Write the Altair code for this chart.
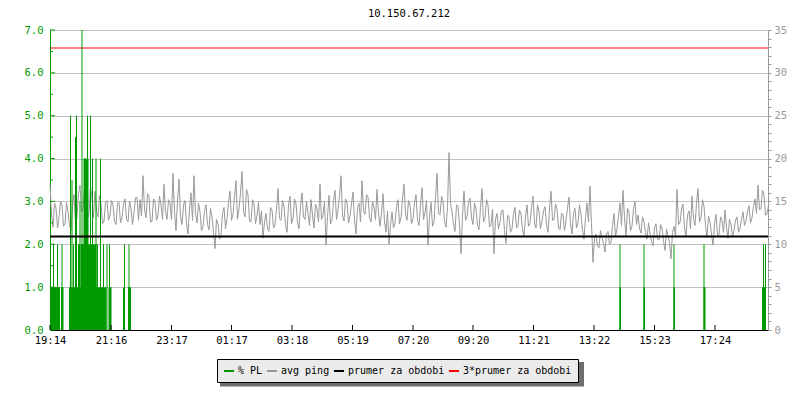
import altair as alt
import pandas as pd

FONT = "DejaVu Sans Mono"
FS = 10.5

title_text = "10.150.67.212"

# x axis: minutes since 19:14
tick_minutes = [0, 122, 243, 363, 484, 605, 726, 846, 967, 1088, 1209, 1330]
tick_labels = ["19:14", "21:16", "23:17", "01:17", "03:18", "05:19",
               "07:20", "09:20", "11:21", "13:22", "15:23", "17:24"]
x_domain = [0, 1436]

# avg ping (right axis), samples at minutes 0, 6, 12, ...
ping_step = 6
ping_values = [
    17.0, 12.0, 14.2, 13.1, 14.6, 12.4, 13.8, 11.6, 15.8, 13.2,
    16.9, 14.1, 17.8, 13.6, 15.4, 16.2, 13.2, 14.8, 12.7, 15.1,
    13.4, 14.6, 12.3, 14.9, 13.1, 15.3, 12.6, 14.2, 13.7, 15.5,
    15.2, 18.0, 13.1, 15.6, 12.7, 14.9, 13.4, 14.6, 17.0, 12.9,
    14.8, 18.3, 11.6, 17.6, 12.3, 15.1, 11.2, 16.0, 18.0, 12.5,
    13.8, 12.1, 14.6, 11.7, 13.2, 9.5, 12.4, 11.1, 14.3, 13.0,
    16.2, 13.5, 17.4, 14.1, 18.5, 13.2, 15.8, 12.6, 14.7, 13.4,
    12.3, 10.7, 13.6, 11.5, 14.0, 12.2, 16.5, 12.8, 14.4, 11.4,
    15.6, 13.0, 14.7, 11.8, 16.0, 12.9, 13.6, 15.2, 11.9, 14.1,
    17.0, 13.4, 9.9, 15.7, 12.8, 16.3, 14.0, 18.0, 12.7, 15.0,
    13.3, 16.1, 11.2, 14.8, 17.4, 13.5, 15.5, 12.6, 14.3, 16.4,
    12.1, 15.9, 11.4, 10.0, 13.8, 12.5, 15.2, 13.1, 17.0, 12.8,
    14.6, 13.0, 15.8, 12.2, 16.6, 13.7, 9.9, 14.9, 12.6, 18.3,
    13.4, 15.1, 12.0, 20.7, 13.8, 11.5, 14.4, 8.9, 16.2, 13.2,
    15.4, 12.3, 14.1, 11.7, 16.5, 13.0, 14.6, 12.2, 8.9, 13.6,
    12.6, 14.0, 10.1, 13.2, 11.8, 14.3, 12.2, 13.5, 11.0, 14.6,
    12.4, 15.6, 11.9, 13.8, 12.7, 14.4, 11.4, 16.2, 12.9, 14.1,
    11.7, 13.5, 12.8, 15.5, 11.2, 14.2, 12.5, 13.4, 10.6, 14.8,
    16.8, 7.9, 11.2, 9.6, 10.8, 9.1, 11.5, 10.2, 13.6, 11.8,
    14.8, 16.3, 11.0, 13.7, 12.1, 15.0, 13.4, 11.3, 12.6, 10.6,
    11.2, 9.8, 12.4, 10.5, 11.9, 9.3, 10.9, 8.3, 12.1, 16.4,
    12.5, 14.7, 10.9, 13.9, 15.6, 12.2, 16.5, 13.1, 14.4, 10.8,
    12.6, 9.9, 13.5, 11.1, 12.8, 14.0, 10.7, 12.3, 11.6, 13.2,
    11.9, 13.8, 12.7, 14.5, 13.1, 15.3, 16.9, 14.2, 15.8, 13.5,
]
# avg ping samples in between, at minutes 3, 9, 15, ...
ping_values_mid = [
    13.5, 14.8, 11.9, 15.0, 12.1, 14.9, 12.2, 14.4, 12.3, 15.9,
    13.8, 16.4, 12.9, 16.8, 13.1, 13.9, 15.7, 12.4, 14.9, 12.8,
    15.1, 12.6, 14.8, 12.5, 14.7, 12.9, 15.0, 12.3, 15.4, 12.8,
    13.3, 14.1, 15.9, 12.6, 15.3, 12.8, 15.6, 12.9, 13.8, 15.2,
    12.9, 13.7, 15.0, 13.2, 14.6, 12.4, 14.1, 12.8, 13.6, 14.8,
    11.6, 13.9, 12.3, 14.2, 11.4, 12.9, 10.6, 13.6, 11.8, 14.9,
    12.8, 15.6, 12.9, 16.0, 13.8, 16.4, 12.7, 15.2, 12.4, 14.9,
    13.9, 12.6, 11.8, 14.3, 11.9, 14.1, 13.0, 15.1, 12.3, 14.6,
    12.4, 15.3, 12.6, 14.5, 13.2, 15.0, 12.2, 13.4, 14.7, 12.6,
    12.9, 15.0, 13.2, 12.4, 15.1, 12.9, 15.6, 13.4, 15.3, 12.5,
    14.7, 12.8, 14.2, 12.6, 13.9, 15.8, 13.1, 15.0, 12.9, 13.6,
    13.7, 12.6, 13.9, 12.2, 11.9, 14.4, 12.4, 15.3, 13.5, 15.1,
    12.4, 14.9, 12.8, 14.6, 12.9, 15.1, 13.2, 12.1, 15.4, 13.6,
    15.6, 12.7, 14.3, 14.8, 12.4, 14.6, 12.3, 13.4, 12.8, 14.9,
    13.1, 14.8, 12.2, 14.3, 12.6, 15.2, 12.0, 14.1, 12.9, 11.8,
    13.9, 11.6, 13.4, 11.4, 13.6, 11.9, 14.0, 11.7, 13.2, 12.1,
    14.3, 12.5, 14.6, 11.8, 13.9, 12.3, 14.1, 12.8, 14.7, 11.9,
    13.6, 11.6, 14.2, 12.4, 13.7, 11.9, 14.6, 11.7, 13.1, 12.6,
    12.4, 10.6, 9.8, 11.6, 10.1, 11.2, 10.0, 12.1, 10.9, 13.3,
    12.2, 13.1, 14.2, 11.6, 14.1, 12.3, 11.9, 13.2, 11.4, 12.5,
    10.4, 11.9, 10.6, 12.3, 10.4, 11.8, 10.2, 11.4, 10.9, 12.3,
    14.1, 12.0, 13.4, 11.8, 13.0, 14.8, 12.6, 15.2, 12.2, 13.3,
    11.2, 12.4, 11.0, 13.2, 11.4, 12.0, 12.9, 10.9, 12.8, 11.4,
    12.9, 12.2, 13.9, 12.5, 14.4, 13.6, 14.0, 16.3, 13.4, 14.6,
]

# % packet loss (left axis): periods of loss
pl_block_start = [0, 8, 22, 38, 117, 61, 67, 146, 156, 1139, 1187, 1247, 1307, 1424]
pl_block_end = [6, 20, 27, 113, 123, 93, 77, 150, 162, 1142, 1190, 1250, 1311, 1432]
pl_block_value = [1, 1, 1, 1, 1, 2, 4, 1, 1, 1, 1, 1, 1, 1]
# single-sample loss peaks
pl_spike_minute = [1, 7, 15, 24, 41, 44, 47, 51, 53, 57, 59, 60, 64, 75, 81, 85, 92,
                   95, 101, 107, 114, 119, 149, 158, 1140, 1188, 1248, 1308, 1427, 1431]
pl_spike_value = [2, 2, 2, 2, 5, 3.5, 2, 4.5, 5, 2, 2, 3, 7, 5, 5, 4, 4,
                  2, 4, 2, 2, 2, 2, 2, 2, 2, 2, 2, 2, 2]

# reference lines (right axis units)
mean_names = ["prumer za obdobi", "3*prumer za obdobi"]
mean_values = [10.9, 32.9]

left_ticks_major = [0, 1, 2, 3, 4, 5, 6, 7]
left_ticks_minor = [0.5, 1.5, 2.5, 3.5, 4.5, 5.5, 6.5]
right_ticks = list(range(0, 36))

series_names = ["% PL", "avg ping", "prumer za obdobi", "3*prumer za obdobi"]
series_colors = ["#009900", "#999999", "#000000", "#ff0000"]

GREEN = "#009900"
GRAY = "#999999"

# ---------------------------------------------------------------- data frames
ping_df = pd.concat([
    pd.DataFrame({"minute": [i * ping_step for i in range(len(ping_values))],
                  "ping": ping_values}),
    pd.DataFrame({"minute": [i * ping_step + ping_step // 2 for i in range(len(ping_values_mid))],
                  "ping": ping_values_mid}),
]).sort_values("minute").reset_index(drop=True)
ping_df["series"] = "avg ping"

blocks_df = pd.DataFrame({"minute": pl_block_start, "end": pl_block_end,
                          "value": pl_block_value, "series": "% PL"})
spikes_df = pd.DataFrame({"minute": pl_spike_minute, "value": pl_spike_value,
                          "series": "% PL"})
mean_df = pd.DataFrame({"series": mean_names, "ping": mean_values})
major_df = pd.DataFrame({"value": left_ticks_major})
minor_df = pd.DataFrame({"value": left_ticks_minor})
xticks_df = pd.DataFrame({"minute": tick_minutes})
dummy_df = pd.DataFrame({"k": [0]})

label_expr = "".join(f"datum.value == {m} ? '{l}' : " for m, l in zip(tick_minutes, tick_labels)) + "''"

x_scale = alt.Scale(domain=x_domain, nice=False, zero=False)
left_scale = alt.Scale(domain=[0, 7], nice=False)
right_scale = alt.Scale(domain=[0, 35], nice=False)
color_scale = alt.Scale(domain=series_names, range=series_colors)

x_axis = alt.Axis(values=tick_minutes, labelExpr=label_expr, grid=False, tickSize=0,
                  domainColor="black", labelColor="black", labelPadding=5,
                  labelFlush=False, labelOverlap=False, title=None)
left_axis = alt.Axis(orient="left", values=left_ticks_major, format=".1f",
                     grid=True, gridColor="#c0c0c0", tickSize=0,
                     domainColor=GREEN, labelColor=GREEN, labelPadding=7,
                     title=None)
right_axis = alt.Axis(orient="right", values=right_ticks,
                      labelExpr="datum.value % 5 == 0 ? datum.label : ''",
                      labelOverlap=False, grid=False, tickSize=3,
                      tickColor=GRAY, domainColor=GRAY, labelColor=GRAY,
                      labelPadding=3, title=None)

legend = alt.Legend(orient="none", legendX=167, legendY=329, direction="horizontal",
                    columns=4, title=None, symbolType="stroke", symbolSize=100,
                    symbolStrokeWidth=2, labelFont=FONT, labelFontSize=10,
                    labelColor="black", fillColor="#ebebeb", strokeColor="black",
                    padding=6, columnPadding=0, labelOffset=3)

X = alt.X("minute:Q", scale=x_scale, axis=x_axis)
Y_LEFT = alt.Y("value:Q", scale=left_scale, axis=left_axis)

# ---------------------------------------------------------------- ping (right)
ping_layer = alt.Chart(ping_df).mark_line(strokeWidth=1).encode(
    x=X,
    y=alt.Y("ping:Q", scale=right_scale, axis=right_axis),
    color=alt.Color("series:N", scale=color_scale, legend=legend),
)

# ---------------------------------------------------------------- PL (left)
pl_blocks = alt.Chart(blocks_df).mark_rect().encode(
    x=X,
    x2="end:Q",
    y=Y_LEFT,
    y2=alt.datum(0),
    color=alt.Color("series:N", scale=color_scale, legend=None),
)
pl_spikes = alt.Chart(spikes_df).mark_rule(strokeWidth=1).encode(
    x=X,
    y=Y_LEFT,
    y2=alt.datum(0),
    color=alt.Color("series:N", scale=color_scale, legend=None),
)
major_ticks = alt.Chart(major_df).mark_rule(color=GREEN, strokeWidth=1).encode(
    y=Y_LEFT,
    x=alt.value(0), x2=alt.value(5),
)
minor_ticks = alt.Chart(minor_df).mark_rule(color=GREEN, strokeWidth=1).encode(
    y=Y_LEFT,
    x=alt.value(0), x2=alt.value(3),
)
x_ticks = alt.Chart(xticks_df).mark_rule(color="black", strokeWidth=1).encode(
    x=X,
    y=alt.value(295), y2=alt.value(300),
)
pl_group = alt.layer(pl_blocks, pl_spikes, major_ticks, minor_ticks, x_ticks)

# ---------------------------------------------------------------- mean lines
mean_black = alt.Chart(mean_df).mark_rule(strokeWidth=2).encode(
    y=alt.Y("ping:Q", scale=right_scale, axis=None),
    color=alt.Color("series:N", scale=color_scale, legend=None),
).transform_filter(alt.datum.series == mean_names[0])
mean_red = alt.Chart(mean_df).mark_rule(strokeWidth=1).encode(
    y=alt.Y("ping:Q", scale=right_scale, axis=None),
    color=alt.Color("series:N", scale=color_scale, legend=None),
).transform_filter(alt.datum.series == mean_names[1])
mean_group = alt.layer(mean_black, mean_red)

shadow = alt.Chart(dummy_df).mark_rect(color="#6e6e6e").encode(
    x=alt.value(170), x2=alt.value(534), y=alt.value(332), y2=alt.value(356.5),
)

chart = alt.layer(ping_layer, pl_group, mean_group, shadow).resolve_scale(
    y="independent"
).properties(
    width=718, height=300,
    autosize=alt.AutoSizeParams(type="none"),
    padding={"left": 42, "top": 22, "right": 24, "bottom": 62},
    title=alt.Title(title_text, font=FONT, fontSize=FS, fontWeight="normal",
                    color="black", anchor="middle", offset=6),
).configure_axis(
    labelFont=FONT, labelFontSize=FS,
).configure_view(strokeWidth=0)

chart.save("out.html", embed_options={"renderer": "svg", "actions": False})
